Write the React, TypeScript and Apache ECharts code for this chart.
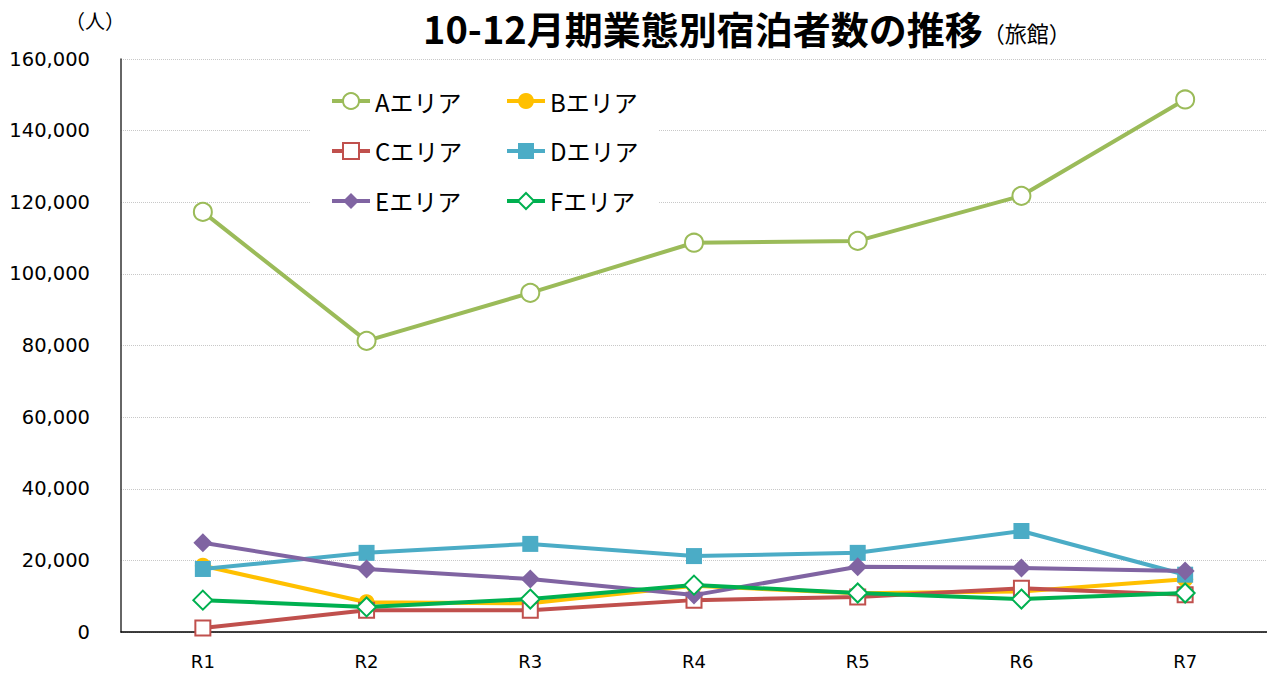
import React, { useEffect, useRef } from "react";
import * as echarts from "echarts";

const categories = ["R1", "R2", "R3", "R4", "R5", "R6", "R7"];
const areaA = [117300, 81300, 94700, 108700, 109200, 121800, 148700];
const areaB = [18500, 8300, 8000, 12900, 10800, 11300, 14700];
const areaC = [1100, 6100, 6100, 8900, 9800, 12200, 10400];
const areaD = [17600, 22100, 24600, 21200, 22100, 28200, 16000];
const areaE = [24900, 17600, 14800, 10300, 18200, 17900, 17000];
const areaF = [8900, 7000, 9200, 13100, 10900, 9200, 10900];
const seriesNames = ["Aエリア", "Bエリア", "Cエリア", "Dエリア", "Eエリア", "Fエリア"];
const yTicks = [0, 20000, 40000, 60000, 80000, 100000, 120000, 140000, 160000];

const JP = "Noto Sans CJK JP";
const NUM = "DejaVu Sans";

export default function App() {
  const ref = useRef<HTMLDivElement>(null);
  useEffect(() => {
    if (!ref.current) return;
    const chart = echarts.init(ref.current, undefined, { renderer: "svg" });
    const defs = [
      { data: areaA, color: "#9BBB59", symbol: "circle", size: 18, empty: true },
      { data: areaB, color: "#FFC000", symbol: "circle", size: 16, empty: false },
      { data: areaC, color: "#C0504D", symbol: "rect", size: 15, empty: true },
      { data: areaD, color: "#4BACC6", symbol: "rect", size: 16, empty: false },
      { data: areaE, color: "#8064A2", symbol: "diamond", size: 19, empty: false },
      { data: areaF, color: "#00B050", symbol: "diamond", size: 19, empty: true },
    ];
    const series = defs.map((d, i) => ({
      type: "line",
      name: seriesNames[i],
      data: d.data,
      color: d.color,
      symbol: d.symbol,
      symbolSize: d.size,
      showAllSymbol: true,
      lineStyle: { color: d.color, width: 4 },
      itemStyle: d.empty
        ? { color: "#ffffff", borderColor: d.color, borderWidth: 2 }
        : { color: d.color, borderWidth: 0 },
      z: 2 + i,
    }));
    const legendCommon = {
      orient: "vertical",
      top: 89,
      padding: 0,
      itemWidth: 38,
      itemHeight: 20,
      itemGap: 26,
      lineStyle: { width: 4 },
      textStyle: { fontFamily: JP, fontSize: 24, color: "#000" },
    };
    chart.setOption({
      animation: false,
      backgroundColor: "#ffffff",
      title: {
        text: "10-12月期業態別宿泊者数の推移{s|（旅館）}",
        left: 418,
        top: 3,
        textStyle: {
          fontFamily: JP,
          fontSize: 38,
          fontWeight: "bold",
          color: "#000",
          rich: { s: { fontFamily: JP, fontSize: 22, fontWeight: "normal", color: "#000", padding: [10, 0, 0, 0] } },
        },
      },
      grid: { left: 121, right: 0, top: 59, bottom: 41, containLabel: false },
      xAxis: {
        type: "category",
        data: categories,
        boundaryGap: true,
        axisLine: { show: true, lineStyle: { color: "#000", width: 1.5 } },
        axisTick: { show: false },
        axisLabel: { fontSize: 18, fontFamily: NUM, color: "#000", margin: 20 },
      },
      yAxis: {
        type: "value",
        min: 0,
        max: 160000,
        interval: 20000,
        axisLine: { show: true, lineStyle: { color: "#333", width: 1.5 } },
        axisTick: { show: false },
        splitLine: { show: true, lineStyle: { color: "#c8c8c8", type: "dotted", width: 1 } },
        axisLabel: {
          fontSize: 19.5,
          fontFamily: NUM,
          color: "#000",
          margin: 31,
          formatter: (v: number) => (yTicks.includes(v) ? v.toLocaleString("en-US") : ""),
        },
      },
      legend: [
        { ...legendCommon, data: [seriesNames[0], seriesNames[2], seriesNames[4]], left: 330 },
        { ...legendCommon, data: [seriesNames[1], seriesNames[3], seriesNames[5]], left: 505 },
      ],
      graphic: [
        {
          type: "rect",
          z: 1,
          shape: { x: 310, y: 84, width: 348, height: 132 },
          style: { fill: "#ffffff" },
        },
        {
          type: "text",
          left: 65,
          top: 10,
          style: { text: "（人）", fontFamily: JP, fontSize: 20, fill: "#000" },
        },
      ],
      series,
    });
    const yLabels = yTicks.map((v) => v.toLocaleString("en-US"));
    const fixLabels = () => {
      if (!ref.current) return;
      ref.current.querySelectorAll("text").forEach((t) => {
        const s = (t.textContent || "").trim();
        if (yLabels.includes(s)) {
          t.style.fontSize = "19.5px";
          t.style.fontFamily = NUM;
        } else if (categories.includes(s)) {
          t.style.fontSize = "18px";
          t.style.fontFamily = NUM;
        }
      });
    };
    fixLabels();
    chart.on("finished", fixLabels);
    const timer = window.setTimeout(fixLabels, 50);
    return () => {
      window.clearTimeout(timer);
      chart.dispose();
    };
  }, []);
  return (
    <div style={{ position: "absolute", left: 0, top: 0 }}>
      <div ref={ref} style={{ width: 1267, height: 673 }} />
    </div>
  );
}
